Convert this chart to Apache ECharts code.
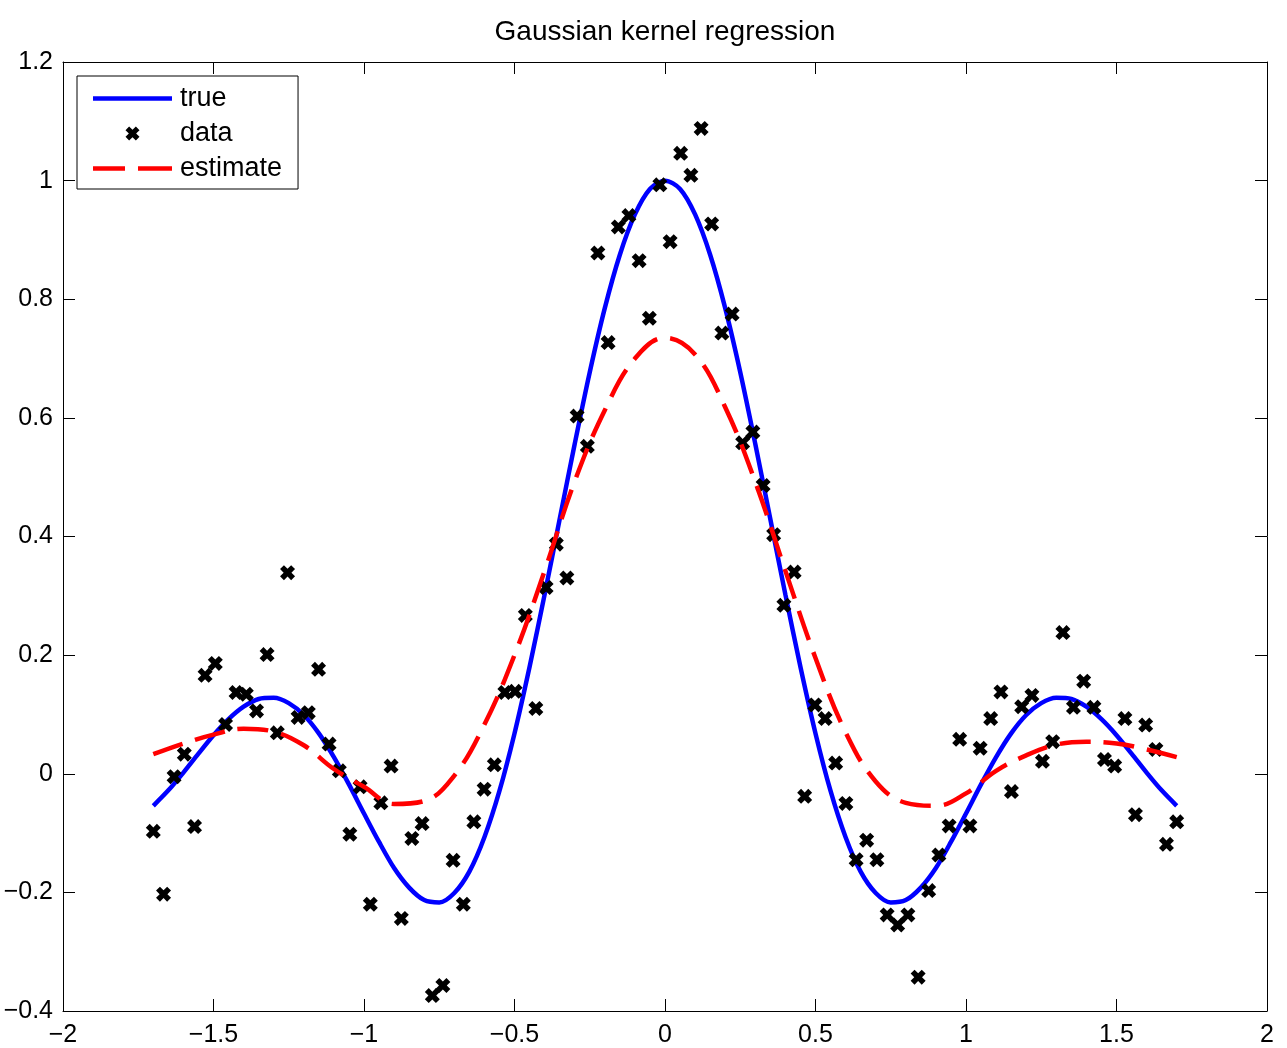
<!DOCTYPE html>
<html>
<head>
<meta charset="utf-8">
<script src="https://cdn.jsdelivr.net/npm/echarts@6/dist/echarts.min.js"></script>
<style>
html, body { margin: 0; padding: 0; background: #fff; }
#chart { width: 1287px; height: 1048px; }
</style>
</head>
<body>
<div id="chart"></div>
<script>
// ---- data ----
const dataX = [
  -1.700, -1.666, -1.631, -1.597, -1.563, -1.528, -1.494, -1.460, -1.425, -1.391,
  -1.357, -1.322, -1.288, -1.254, -1.219, -1.185, -1.151, -1.116, -1.082, -1.047,
  -1.013, -0.979, -0.944, -0.910, -0.876, -0.841, -0.807, -0.773, -0.738, -0.704,
  -0.670, -0.635, -0.601, -0.567, -0.532, -0.498, -0.464, -0.429, -0.395, -0.361,
  -0.326, -0.292, -0.258, -0.223, -0.189, -0.155, -0.120, -0.086, -0.052, -0.017,
   0.017,  0.052,  0.086,  0.120,  0.155,  0.189,  0.223,  0.258,  0.292,  0.326,
   0.361,  0.395,  0.429,  0.464,  0.498,  0.532,  0.567,  0.601,  0.635,  0.670,
   0.704,  0.738,  0.773,  0.807,  0.841,  0.876,  0.910,  0.944,  0.979,  1.013,
   1.047,  1.082,  1.116,  1.151,  1.185,  1.219,  1.254,  1.288,  1.322,  1.357,
   1.391,  1.425,  1.460,  1.494,  1.528,  1.563,  1.597,  1.631,  1.666,  1.700
];
const dataY = [
  -0.097, -0.203, -0.005,  0.033, -0.089,  0.166,  0.186,  0.083,  0.137,  0.134,
   0.106,  0.201,  0.069,  0.339,  0.095,  0.103,  0.176,  0.050,  0.005, -0.102,
  -0.022, -0.220, -0.049,  0.013, -0.244, -0.109, -0.084, -0.374, -0.357, -0.146,
  -0.220, -0.081, -0.026,  0.015,  0.137,  0.139,  0.267,  0.110,  0.314,  0.387,
   0.330,  0.603,  0.552,  0.878,  0.727,  0.922,  0.941,  0.865,  0.768,  0.993,
   0.897,  1.046,  1.009,  1.088,  0.927,  0.743,  0.775,  0.558,  0.576,  0.486,
   0.403,  0.284,  0.340, -0.038,  0.116,  0.093,  0.018, -0.050, -0.145, -0.112,
  -0.145, -0.238, -0.255, -0.238, -0.343, -0.197, -0.137, -0.088,  0.058, -0.088,
   0.043,  0.093,  0.138, -0.030,  0.113,  0.132,  0.021,  0.054,  0.238,  0.112,
   0.156,  0.112,  0.024,  0.013,  0.093, -0.069,  0.082,  0.041, -0.119, -0.081
];

const trueX = [
  -1.70, -1.65, -1.60, -1.55, -1.50, -1.45, -1.40, -1.35, -1.30, -1.25, -1.20, -1.15,
  -1.10, -1.05, -1.00, -0.95, -0.90, -0.85, -0.80, -0.75, -0.70, -0.65, -0.60, -0.55,
  -0.50, -0.45, -0.40, -0.35, -0.30, -0.25, -0.20, -0.15, -0.10, -0.05,  0.00,
   0.05,  0.10,  0.15,  0.20,  0.25,  0.30,  0.35,  0.40,  0.45,  0.50,  0.55,  0.60,
   0.65,  0.70,  0.75,  0.80,  0.85,  0.90,  0.95,  1.00,  1.05,  1.10,  1.15,  1.20,
   1.25,  1.30,  1.35,  1.40,  1.45,  1.50,  1.55,  1.60,  1.65,  1.70
];
const trueY = [
  -0.054, -0.028,  0.002,  0.034,  0.065,  0.092,  0.113,  0.126,  0.128,  0.119,  0.099,  0.068,
   0.028, -0.018, -0.067, -0.115, -0.159, -0.192, -0.213, -0.217, -0.201, -0.165, -0.107, -0.029,
   0.068,  0.180,  0.302,  0.429,  0.556,  0.677,  0.785,  0.875,  0.943,  0.986,  1.000,
   0.986,  0.943,  0.875,  0.785,  0.677,  0.556,  0.429,  0.302,  0.180,  0.068, -0.029, -0.107,
  -0.165, -0.201, -0.217, -0.213, -0.192, -0.159, -0.115, -0.067, -0.018,  0.028,  0.068,  0.099,
   0.119,  0.128,  0.126,  0.113,  0.092,  0.065,  0.034,  0.002, -0.028, -0.054
];

const estX = [
  -1.7, -1.6, -1.5, -1.4, -1.3, -1.2, -1.1, -1.0, -0.9, -0.8, -0.7, -0.6, -0.5, -0.4, -0.3, -0.2, -0.1,
   0.0,  0.1,  0.2,  0.3,  0.4,  0.5,  0.6,  0.7,  0.8,  0.9,  1.0,  1.1,  1.2,  1.3,  1.4,  1.5,  1.6,  1.7
];
const estY = [
   0.033,  0.051,  0.066,  0.076,  0.071,  0.048,  0.008, -0.022, -0.051, -0.046, -0.003,  0.083,
   0.200,  0.342,  0.493,  0.613,  0.700,  0.735,  0.707,  0.618,  0.492,  0.342,  0.195,  0.070,
  -0.013, -0.049, -0.054, -0.033,  0.005,  0.031,  0.049,  0.054,  0.051,  0.041,  0.028
];

const seriesNames = ['true', 'data', 'estimate'];
const titleText = 'Gaussian kernel regression';

// ---- chart ----
const pair = (xs, ys) => xs.map((x, i) => [x, ys[i]]);
const fmt = v => String(Math.round(v * 10) / 10).replace('-', '\u2212');
const FONT = '"Liberation Sans", Arial, Helvetica, sans-serif';
const crossPath = 'path://M0,2.6 L2.6,0 L5,2.4 L7.4,0 L10,2.6 L7.6,5 L10,7.4 L7.4,10 L5,7.6 L2.6,10 L0,7.4 L2.4,5 Z';

const axisCommon = {
  type: 'value',
  axisLine: { show: true, onZero: false, lineStyle: { color: '#000', width: 1 } },
  axisTick: { show: true, inside: true, length: 12, lineStyle: { color: '#000', width: 1 } },
  splitLine: { show: false }
};

const chart = echarts.init(document.getElementById('chart'), null, { renderer: 'canvas' });
chart.setOption({
  animation: false,
  backgroundColor: '#fff',
  title: {
    text: titleText,
    left: 665,
    top: 18,
    padding: 0,
    textAlign: 'center',
    textStyle: { fontFamily: FONT, fontSize: 28, fontWeight: 'normal', color: '#000' }
  },
  grid: { left: 63, right: 20, top: 62, bottom: 36, containLabel: false },
  legend: {
    left: 77,
    top: 76,
    orient: 'vertical',
    backgroundColor: '#fff',
    borderColor: '#000',
    borderWidth: 1,
    borderRadius: 0,
    padding: [9, 16, 7, 16],
    itemWidth: 79,
    itemHeight: 14,
    itemGap: 8,
    selectedMode: false,
    textStyle: { fontFamily: FONT, fontSize: 27, color: '#000', lineHeight: 26, padding: [0, 0, 0, 3] },
    data: [
      { name: seriesNames[0], icon: 'path://M0,0 L79,0 L79,4.5 L0,4.5 Z', itemStyle: { color: '#0000ff', borderWidth: 0 } },
      { name: seriesNames[1], icon: crossPath, itemStyle: { color: '#000', borderWidth: 0 } },
      { name: seriesNames[2], icon: 'path://M0,0 L32,0 L32,4.5 L0,4.5 Z M45,0 L79,0 L79,4.5 L45,4.5 Z', itemStyle: { color: '#ff0000', borderWidth: 0 } }
    ]
  },
  xAxis: [
    Object.assign({}, axisCommon, {
      position: 'bottom', min: -2, max: 2, interval: 0.5,
      axisLabel: { show: true, margin: 12, formatter: fmt, fontFamily: FONT, fontSize: 25, color: '#000' }
    }),
    Object.assign({}, axisCommon, {
      position: 'top', min: -2, max: 2, interval: 0.5, axisLabel: { show: false }
    })
  ],
  yAxis: [
    Object.assign({}, axisCommon, {
      position: 'left', min: -0.4, max: 1.2, interval: 0.2,
      axisLabel: { show: true, margin: 10, formatter: fmt, fontFamily: FONT, fontSize: 25, color: '#000' }
    }),
    Object.assign({}, axisCommon, {
      position: 'right', min: -0.4, max: 1.2, interval: 0.2, axisLabel: { show: false }
    })
  ],
  series: [
    {
      name: seriesNames[0],
      type: 'line',
      xAxisIndex: 0, yAxisIndex: 0,
      data: pair(trueX, trueY),
      smooth: 0.3,
      symbol: 'none',
      showSymbol: false,
      lineStyle: { color: '#0000ff', width: 4.5 },
      itemStyle: { color: '#0000ff' },
      z: 2
    },
    {
      name: seriesNames[1],
      type: 'scatter',
      xAxisIndex: 0, yAxisIndex: 0,
      data: pair(dataX, dataY),
      symbol: crossPath,
      symbolSize: 15,
      itemStyle: { color: '#000', opacity: 1 },
      z: 3
    },
    {
      name: seriesNames[2],
      type: 'line',
      xAxisIndex: 0, yAxisIndex: 0,
      data: pair(estX, estY),
      smooth: 0.4,
      symbol: 'none',
      showSymbol: false,
      lineStyle: { color: '#ff0000', width: 4.5, type: [31, 13] },
      itemStyle: { color: '#ff0000' },
      z: 4
    }
  ]
});
</script>
</body>
</html>
